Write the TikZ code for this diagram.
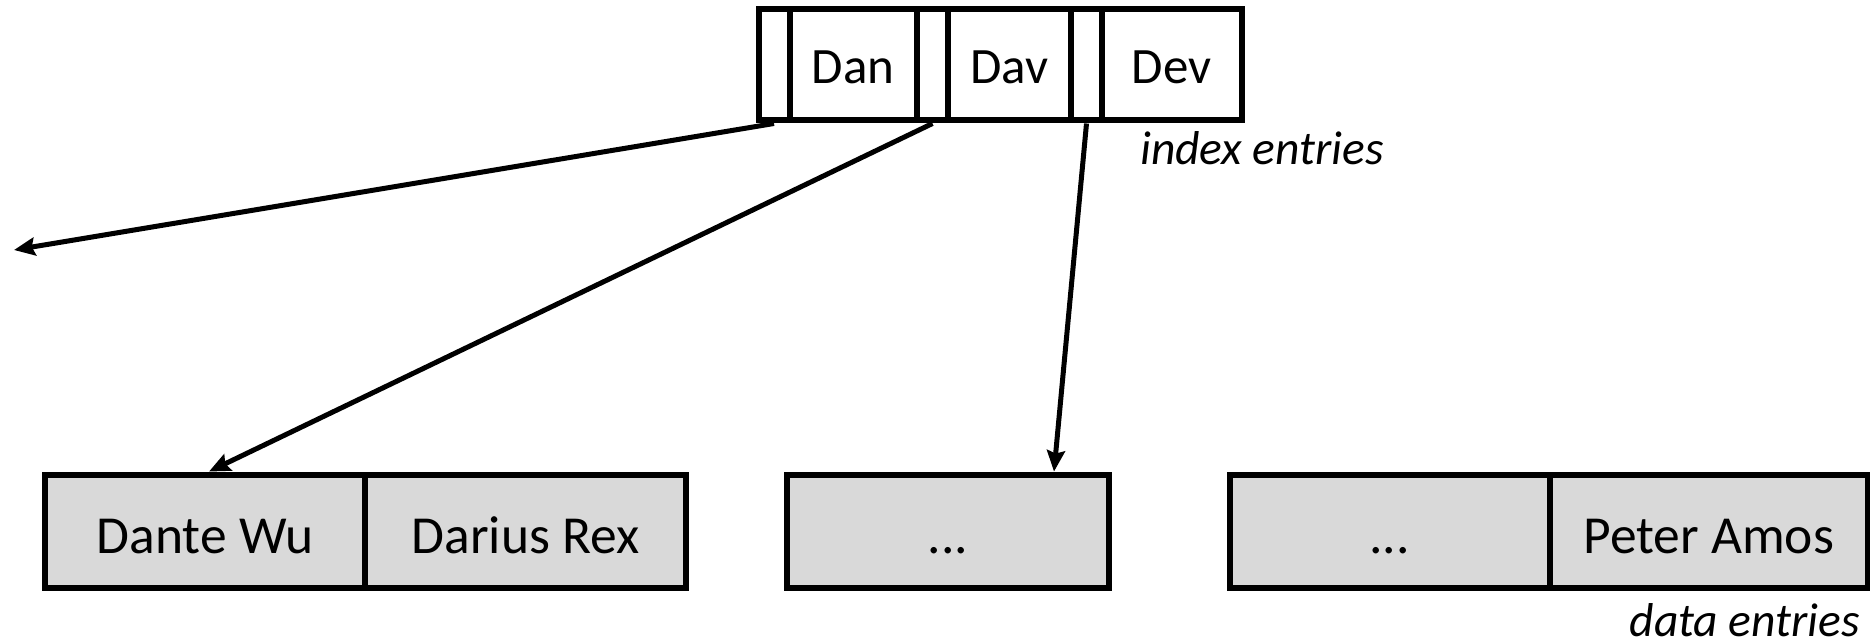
\documentclass[tikz,border=0pt]{standalone}
\usepackage{fontspec}
\setmainfont{Carlito}
\usetikzlibrary{arrows.meta}
\definecolor{cellgray}{HTML}{D9D9D9}
\begin{document}
\begin{tikzpicture}[x=1pt,y=-1pt,
  cell/.style={draw=black, line width=6pt, inner sep=0pt, minimum height=111pt,
    text height=38pt, text depth=0pt, font=\fontsize{51}{60}\selectfont},
  datacell/.style={cell, fill=cellgray, minimum height=113.5pt,
    text height=45pt, text depth=0pt, font=\fontsize{53.5}{60}\selectfont},
  conn/.style={line width=5pt, -{Stealth[length=21pt,width=18pt,inset=3pt]}},
  lbl/.style={font=\fontsize{47.5}{55}\selectfont\itshape, inner sep=0pt}]
\useasboundingbox (0,0) rectangle (1870,644);
% index node
\node[cell, minimum width=31pt]  (p1) at (774,65) {};
\node[cell, minimum width=127.5pt] (k1) at (853.25,65) {Dan};
\node[cell, minimum width=31pt]  (p2) at (932.5,65) {};
\node[cell, minimum width=123pt] (k2) at (1009.5,65) {Dav};
\node[cell, minimum width=31pt]  (p3) at (1086.5,65) {};
\node[cell, minimum width=139.5pt] (k3) at (1171.75,65) {Dev};
\node[lbl, anchor=west] (il) at (1140,148) {index entries};
% data pages
\node[datacell, minimum width=320pt] (a1) at (205,531.3) {Dante Wu};
\node[datacell, minimum width=321pt] (a2) at (525.5,531.3) {Darius Rex};
\node[datacell, minimum width=322pt] (b1) at (948,531.3) {...};
\node[datacell, minimum width=320.5pt] (c1) at (1389.75,531.3) {...};
\node[datacell, minimum width=317.6pt] (c2) at (1708.8,531.3) {Peter Amos};
\node[lbl, anchor=east] (dl) at (1860,620) {data entries};
% connectors
\coordinate (left) at (14,250);
\draw[conn] (p1.south) -- (left);
\draw[conn] (p2.south) -- ([xshift=4pt]a1.north);
\draw[conn] (p3.south) -- ([xshift=106pt]b1.north);
\end{tikzpicture}
\end{document}
